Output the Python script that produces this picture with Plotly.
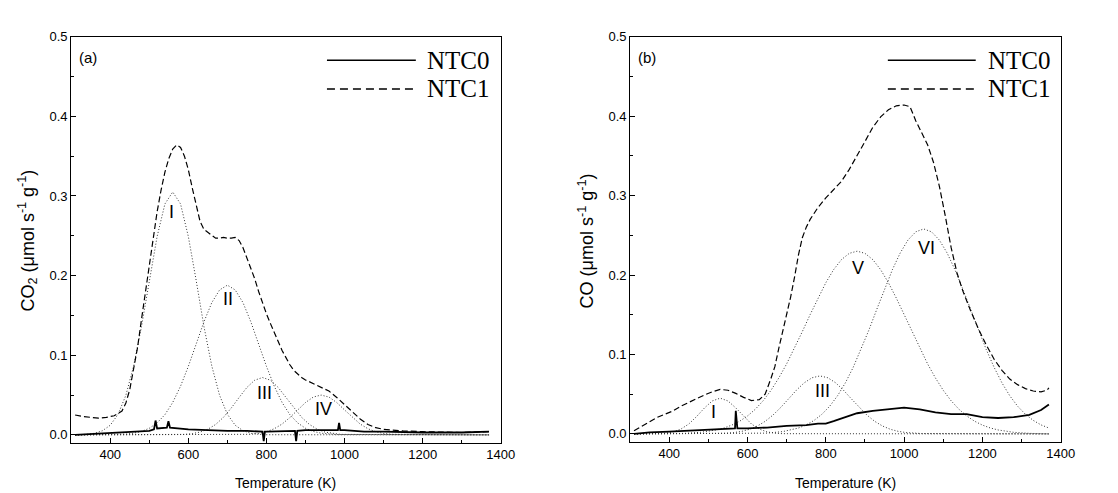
import plotly.graph_objects as go

# ---------------- data : panel (a) CO2 ----------------
temp_a_ntc0 = [310, 350, 400, 450, 500, 512, 516, 520, 545, 549, 553, 600, 650, 700, 750, 790, 793, 796, 800,
               850, 873, 876, 879, 900, 950, 983, 986, 989, 1000, 1050, 1100, 1200, 1300, 1370]
co2_ntc0 = [0.000, 0.001, 0.002, 0.003, 0.005, 0.007, 0.018, 0.008, 0.009, 0.017, 0.009, 0.007, 0.006, 0.005,
            0.005, 0.004, -0.008, 0.004, 0.004, 0.005, 0.005, -0.008, 0.005, 0.006, 0.006, 0.006, 0.015, 0.006,
            0.006, 0.004, 0.004, 0.003, 0.003, 0.004]

temp_a_ntc1 = [310, 330, 350, 370, 390, 410, 430, 440, 450, 460, 470, 480, 490, 500, 510, 520, 530, 540, 550,
               560, 570, 580, 590, 600, 610, 620, 630, 640, 650, 660, 670, 680, 690, 700, 710, 720, 730, 740,
               750, 760, 770, 780, 790, 800, 810, 820, 830, 840, 850, 860, 870, 880, 890, 900, 920, 940, 960,
               980, 1000, 1020, 1040, 1060, 1080, 1100, 1150, 1200, 1300, 1370]
co2_ntc1 = [0.025, 0.023, 0.022, 0.021, 0.022, 0.024, 0.030, 0.040, 0.057, 0.083, 0.110, 0.145, 0.180, 0.214,
            0.248, 0.280, 0.307, 0.330, 0.347, 0.359, 0.364, 0.361, 0.350, 0.333, 0.310, 0.287, 0.268, 0.258,
            0.254, 0.250, 0.247, 0.247, 0.248, 0.247, 0.247, 0.248, 0.244, 0.235, 0.222, 0.210, 0.196, 0.180,
            0.165, 0.152, 0.140, 0.128, 0.117, 0.106, 0.097, 0.088, 0.081, 0.076, 0.072, 0.069, 0.064, 0.060,
            0.055, 0.047, 0.038, 0.028, 0.020, 0.013, 0.009, 0.007, 0.005, 0.004, 0.003, 0.004]

# deconvoluted peaks (a)
temp_a_I = [310, 320, 340, 360, 380, 400, 420, 440, 460, 480, 500, 520, 540, 560, 580, 600, 620, 640, 660,
            680, 700, 720, 740, 760, 780, 800, 1370]
co2_I = [0.0, 0.0002, 0.0007, 0.0020, 0.0052, 0.0121, 0.0258, 0.0497, 0.0866, 0.136, 0.194, 0.249, 0.290,
         0.305, 0.290, 0.249, 0.194, 0.136, 0.0866, 0.0497, 0.0258, 0.0121, 0.0052, 0.0020, 0.0007, 0.0002, 0.0]

temp_a_II = [310, 420, 440, 460, 480, 500, 520, 540, 560, 580, 600, 620, 640, 660, 680, 700, 720, 740, 760,
             780, 800, 820, 840, 860, 880, 900, 920, 940, 960, 980, 1370]
co2_II = [0.0, 0.0004, 0.0010, 0.0021, 0.0043, 0.0083, 0.0150, 0.0254, 0.0407, 0.0611, 0.0861, 0.114, 0.142,
          0.166, 0.182, 0.188, 0.182, 0.166, 0.142, 0.114, 0.0861, 0.0611, 0.0407, 0.0254, 0.0150, 0.0083,
          0.0043, 0.0021, 0.0010, 0.0004, 0.0]

temp_a_III = [310, 590, 610, 630, 650, 670, 690, 710, 730, 750, 770, 790, 810, 830, 850, 870, 890, 910, 930,
              950, 970, 990, 1370]
co2_III = [0.0, 0.0006, 0.0016, 0.0035, 0.0071, 0.0131, 0.0221, 0.0338, 0.0470, 0.0596, 0.0687, 0.072, 0.0687,
           0.0596, 0.0470, 0.0338, 0.0221, 0.0131, 0.0071, 0.0035, 0.0016, 0.0006, 0.0]

temp_a_IV = [310, 760, 780, 800, 820, 840, 860, 880, 900, 920, 940, 960, 980, 1000, 1020, 1040, 1060, 1080,
             1100, 1120, 1370]
co2_IV = [0.0, 0.0007, 0.0018, 0.0039, 0.0077, 0.0136, 0.0218, 0.0313, 0.0406, 0.0475, 0.050, 0.0475, 0.0406,
          0.0313, 0.0218, 0.0136, 0.0077, 0.0039, 0.0018, 0.0007, 0.0]

labels_a = ["I", "II", "III", "IV"]
label_a_T = [558, 701, 795, 947]
label_a_v = [0.280, 0.170, 0.053, 0.033]

# ---------------- data : panel (b) CO ----------------
temp_b_ntc0 = [310, 350, 400, 450, 500, 540, 568, 570, 574, 600, 650, 700, 750, 780, 800, 820, 850, 880, 920,
               960, 1000, 1040, 1080, 1120, 1160, 1200, 1240, 1280, 1320, 1350, 1370]
co_ntc0 = [0.000, 0.002, 0.003, 0.004, 0.005, 0.006, 0.007, 0.029, 0.007, 0.007, 0.008, 0.010, 0.011, 0.013,
           0.013, 0.016, 0.021, 0.026, 0.029, 0.031, 0.033, 0.031, 0.027, 0.025, 0.025, 0.021, 0.020, 0.021,
           0.024, 0.030, 0.037]

temp_b_ntc1 = [310, 330, 350, 370, 390, 410, 430, 450, 470, 490, 510, 530, 550, 570, 590, 610, 630, 645, 660,
               670, 680, 690, 700, 710, 720, 730, 740, 750, 760, 780, 800, 820, 840, 860, 880, 900, 920, 940,
               960, 980, 1000, 1015, 1030, 1045, 1060, 1075, 1090, 1105, 1120, 1135, 1150, 1170, 1190, 1210,
               1230, 1250, 1270, 1290, 1310, 1330, 1350, 1365, 1370]
co_ntc1 = [0.004, 0.010, 0.016, 0.021, 0.025, 0.029, 0.035, 0.040, 0.045, 0.049, 0.053, 0.056, 0.055, 0.051,
           0.046, 0.042, 0.043, 0.050, 0.070, 0.085, 0.108, 0.130, 0.148, 0.172, 0.197, 0.225, 0.247, 0.260,
           0.270, 0.285, 0.297, 0.307, 0.318, 0.333, 0.350, 0.368, 0.386, 0.399, 0.408, 0.413, 0.414, 0.412,
           0.394, 0.380, 0.364, 0.342, 0.312, 0.275, 0.235, 0.203, 0.180, 0.155, 0.132, 0.112, 0.094, 0.080,
           0.069, 0.062, 0.057, 0.054, 0.053, 0.055, 0.058]

temp_b_I = [310, 370, 390, 410, 430, 450, 470, 490, 510, 530, 550, 570, 590, 610, 630, 650, 670, 690, 1370]
co_I = [0.0, 0.0003, 0.0009, 0.0025, 0.0061, 0.0125, 0.0219, 0.0327, 0.0415, 0.045, 0.0415, 0.0327, 0.0219,
        0.0125, 0.0061, 0.0025, 0.0009, 0.0003, 0.0]

temp_b_III = [310, 525, 545, 565, 585, 605, 625, 645, 665, 685, 705, 725, 745, 765, 785, 805, 825, 845, 865,
              885, 905, 925, 945, 965, 985, 1005, 1025, 1045, 1370]
co_III = [0.0, 0.0004, 0.0008, 0.0017, 0.0032, 0.0058, 0.0099, 0.0158, 0.0237, 0.0334, 0.0443, 0.0551, 0.0644,
          0.0707, 0.073, 0.0707, 0.0644, 0.0551, 0.0443, 0.0334, 0.0237, 0.0158, 0.0099, 0.0058, 0.0032,
          0.0017, 0.0008, 0.0004, 0.0]

temp_b_V = [310, 400, 440, 480, 500, 520, 540, 560, 580, 600, 620, 640, 660, 680, 700, 720, 740, 760, 780, 800,
            820, 840, 860, 880, 900, 920, 940, 960, 980, 1000, 1020, 1040, 1060, 1080, 1100, 1120, 1140, 1160,
            1180, 1200, 1220, 1240, 1260, 1280, 1320, 1360, 1370]
co_V = [0.0, 0.0002, 0.0007, 0.0020, 0.0032, 0.0050, 0.0075, 0.0111, 0.0160, 0.0226, 0.0311, 0.0418, 0.0549,
        0.0705, 0.0882, 0.1079, 0.1288, 0.1502, 0.1711, 0.1903, 0.2068, 0.2194, 0.2273, 0.230, 0.2273, 0.2194,
        0.2068, 0.1903, 0.1711, 0.1502, 0.1288, 0.1079, 0.0882, 0.0705, 0.0549, 0.0418, 0.0311, 0.0226,
        0.0160, 0.0111, 0.0075, 0.0050, 0.0032, 0.0020, 0.0007, 0.0002, 0.0]

temp_b_VI = [310, 610, 650, 690, 710, 730, 750, 770, 790, 810, 830, 850, 870, 890, 910, 930, 950, 970, 990,
             1010, 1030, 1050, 1070, 1090, 1110, 1130, 1150, 1170, 1190, 1210, 1230, 1250, 1270, 1290, 1310,
             1330, 1350, 1370]
co_VI = [0.0, 0.0003, 0.0010, 0.0029, 0.0047, 0.0074, 0.0113, 0.0170, 0.0247, 0.0349, 0.0480, 0.0643, 0.0838,
         0.1061, 0.1306, 0.1565, 0.1824, 0.2066, 0.2277, 0.2441, 0.2544, 0.258, 0.2544, 0.2441, 0.2277,
         0.2066, 0.1824, 0.1565, 0.1306, 0.1061, 0.0838, 0.0643, 0.0480, 0.0349, 0.0247, 0.0170, 0.0113,
         0.0074]

labels_b = ["I", "III", "V", "VI"]
label_b_T = [514, 792, 881, 1058]
label_b_v = [0.027, 0.054, 0.209, 0.234]

x_ticks = [400, 600, 800, 1000, 1200, 1400]
y_ticks = [0.0, 0.1, 0.2, 0.3, 0.4, 0.5]

# ---------------- figure ----------------
W, H = 1118, 493
SANS = "Liberation Sans, Arial, sans-serif"
SERIF = "Liberation Serif, Times New Roman, serif"

solid = dict(color="black", width=1.8)
dashed = dict(color="black", width=1.2, dash="6px,3px")
dotted = dict(color="#333333", width=1, dash="1px,2px")

fig = go.Figure()

def add(x, y, line, xa, ya):
    fig.add_trace(go.Scatter(x=x, y=y, mode="lines", line=line, xaxis=xa, yaxis=ya,
                             hoverinfo="skip", showlegend=False))

for tx, ty in [(temp_a_I, co2_I), (temp_a_II, co2_II), (temp_a_III, co2_III), (temp_a_IV, co2_IV)]:
    add(tx, ty, dotted, "x", "y")
add(temp_a_ntc1, co2_ntc1, dashed, "x", "y")
add(temp_a_ntc0, co2_ntc0, solid, "x", "y")

for tx, ty in [(temp_b_I, co_I), (temp_b_III, co_III), (temp_b_V, co_V), (temp_b_VI, co_VI)]:
    add(tx, ty, dotted, "x2", "y2")
add(temp_b_ntc1, co_ntc1, dashed, "x2", "y2")
add(temp_b_ntc0, co_ntc0, solid, "x2", "y2")

def xax(domain, anchor):
    return dict(domain=domain, anchor=anchor, range=[300, 1400], tickvals=x_ticks,
                ticks="inside", ticklen=5, tickwidth=1, tickcolor="black",
                minor=dict(dtick=100, ticks="inside", ticklen=3, tickcolor="black"),
                showline=True, linecolor="black", linewidth=1, mirror=True,
                showgrid=False, zeroline=False,
                tickfont=dict(family=SANS, size=13, color="black"))

def yax(domain, anchor):
    return dict(domain=domain, anchor=anchor, range=[-0.01, 0.5], tickvals=y_ticks, tickformat=".1f",
                ticks="inside", ticklen=5, tickwidth=1, tickcolor="black",
                minor=dict(dtick=0.05, ticks="inside", ticklen=3, tickcolor="black"),
                showline=True, linecolor="black", linewidth=1, mirror=True,
                showgrid=False, zeroline=False,
                tickfont=dict(family=SANS, size=13, color="black"))

fig.update_layout(
    width=W, height=H, margin=dict(l=0, r=0, t=0, b=0),
    paper_bgcolor="white", plot_bgcolor="white", showlegend=False,
    xaxis=xax([64 / W, 499 / W], "y"),
    yaxis=yax([1 - 434 / H, 1 - 22 / H], "x"),
    xaxis2=xax([630 / W, 1066 / W], "y2"),
    yaxis2=yax([1 - 433 / H, 1 - 22 / H], "x2"),
)

ann = []
shapes = []
# roman numeral labels
for lab, t, v in zip(labels_a, label_a_T, label_a_v):
    ann.append(dict(x=t, y=v, xref="x", yref="y", text=lab, showarrow=False,
                    xanchor="center", yanchor="middle",
                    font=dict(family=SANS, size=18, color="black")))
for lab, t, v in zip(labels_b, label_b_T, label_b_v):
    ann.append(dict(x=t, y=v, xref="x2", yref="y2", text=lab, showarrow=False,
                    xanchor="center", yanchor="middle",
                    font=dict(family=SANS, size=18, color="black")))

# panel letters
ann.append(dict(x=70 / W, y=1 - 43 / H, xref="paper", yref="paper", text="(a)", showarrow=False,
                xanchor="left", yanchor="middle", font=dict(family=SANS, size=15, color="black")))
ann.append(dict(x=636 / W, y=1 - 43 / H, xref="paper", yref="paper", text="(b)", showarrow=False,
                xanchor="left", yanchor="middle", font=dict(family=SANS, size=15, color="black")))

# axis titles
for xc in [281.5, 848]:
    ann.append(dict(x=xc / W, y=1 - 475 / H, xref="paper", yref="paper", text="Temperature (K)",
                    xanchor="center", yanchor="middle", showarrow=False,
                    font=dict(family=SANS, size=14, color="black")))
ann.append(dict(x=20 / W, y=1 - 229 / H, xref="paper", yref="paper", textangle=-90, showarrow=False,
                xanchor="center", yanchor="middle",
                text="CO<sub>2</sub> (μmol s<sup>-1</sup> g<sup>-1</sup>)",
                font=dict(family=SANS, size=18, color="black")))
ann.append(dict(x=586 / W, y=1 - 229 / H, xref="paper", yref="paper", textangle=-90, showarrow=False,
                xanchor="center", yanchor="middle",
                text="CO (μmol s<sup>-1</sup> g<sup>-1</sup>)",
                font=dict(family=SANS, size=18, color="black")))

# legends (drawn manually)
for (x0, x1, xt) in [(323, 413, 422), (891, 980, 990)]:
    for yy, name, dash in [(46, "NTC0", "solid"), (75, "NTC1", "8px,5px")]:
        shapes.append(dict(type="line", xref="paper", yref="paper", x0=x0 / W, x1=x1 / W,
                           y0=1 - yy / H, y1=1 - yy / H, line=dict(color="black", width=1.5, dash=dash)))
        ann.append(dict(x=xt / W, y=1 - yy / H, xref="paper", yref="paper", text=name, showarrow=False,
                        xanchor="left", yanchor="middle", font=dict(family=SERIF, size=25, color="black")))

fig.update_layout(annotations=ann, shapes=shapes)
fig.write_html("out.html")
